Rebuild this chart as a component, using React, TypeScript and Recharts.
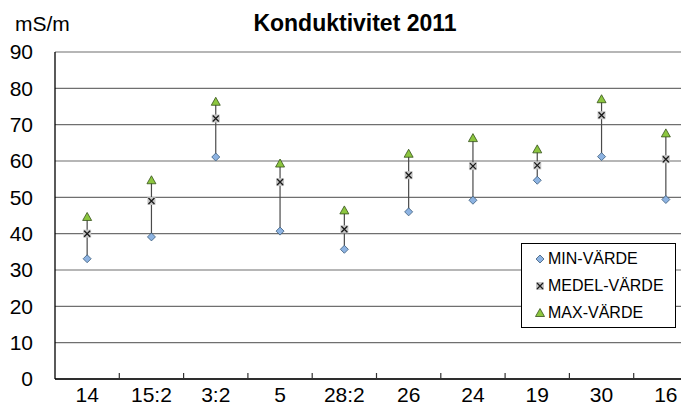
import React from "react";
import {
  ComposedChart, Line, XAxis, YAxis, CartesianGrid, Legend, ErrorBar,
} from "recharts";

const categories = ["14", "15:2", "3:2", "5", "28:2", "26", "24", "19", "30", "16"];
const minValues = [33.1, 39.1, 61.1, 40.7, 35.7, 46.0, 49.2, 54.7, 61.2, 49.4];
const medelValues = [40.0, 49.0, 71.7, 54.2, 41.2, 56.1, 58.6, 58.8, 72.6, 60.5];
const maxValues = [44.6, 54.7, 76.3, 59.3, 46.4, 62.0, 66.3, 63.2, 77.0, 67.6];
const yTicks = [0, 10, 20, 30, 40, 50, 60, 70, 80, 90];

const FONT = "'Liberation Sans', Arial, sans-serif";

const data = categories.map((name, i) => ({
  x: i + 0.5,
  name,
  min: minValues[i],
  medel: medelValues[i],
  max: maxValues[i],
  span: [0, maxValues[i] - minValues[i]],
}));

const labelTicks = categories.map((_, i) => i + 0.5);
const boundaryTicks = categories.slice(1).map((_, i) => i + 1);

const Diamond = ({ cx, cy }: any) =>
  cx == null ? null : (
    <path d={`M${cx},${cy - 4} L${cx + 4},${cy} L${cx},${cy + 4} L${cx - 4},${cy} Z`}
      fill="#8db3e2" stroke="#3a5a7a" strokeWidth={0.8} />
  );

const Cross = ({ cx, cy }: any) =>
  cx == null ? null : (
    <g>
      <rect x={cx - 4} y={cy - 4} width={8} height={8} fill="#c6c6c6" />
      <path d={`M${cx - 3},${cy - 3} L${cx + 3},${cy + 3} M${cx + 3},${cy - 3} L${cx - 3},${cy + 3}`}
        stroke="#1a1a1a" strokeWidth={1.3} />
    </g>
  );

const Triangle = ({ cx, cy }: any) =>
  cx == null ? null : (
    <path d={`M${cx},${cy - 4.5} L${cx + 4.5},${cy + 3.5} L${cx - 4.5},${cy + 3.5} Z`}
      fill="#8cc63f" stroke="#35501a" strokeWidth={0.8} />
  );

const legendItems = [
  { label: "MIN-VÄRDE", Icon: Diamond },
  { label: "MEDEL-VÄRDE", Icon: Cross },
  { label: "MAX-VÄRDE", Icon: Triangle },
];

const LegendBox = () => (
  <div style={{ border: "1px solid #000", background: "#fff", width: 153, height: 82, boxSizing: "content-box", paddingTop: 1 }}>
    {legendItems.map(({ label, Icon }) => (
      <div key={label} style={{ display: "flex", alignItems: "center", height: 27, fontFamily: FONT, fontSize: 16, color: "#000", whiteSpace: "nowrap" }}>
        <svg width={24} height={12} style={{ marginLeft: 7, flexShrink: 0 }}>
          <Icon cx={11} cy={6} />
        </svg>
        <span style={{ marginLeft: -5 }}>{label}</span>
      </div>
    ))}
  </div>
);

const NoTick = () => <g />;

export default function App() {
  return (
    <div style={{ margin: -8, width: 689, height: 415, overflow: "hidden", position: "relative", background: "#fff", fontFamily: FONT }}>
      <div style={{ position: "absolute", left: 15, top: 10, fontSize: 21, color: "#000", lineHeight: "28px" }}>mS/m</div>
      <div style={{ position: "absolute", left: 200, width: 310, top: 9, textAlign: "center", fontSize: 23, fontWeight: "bold", color: "#000", lineHeight: "28px" }}>
        Konduktivitet 2011
      </div>
      <div style={{ position: "absolute", left: 0, top: 0 }}>
        <ComposedChart width={710} height={415} data={data} margin={{ top: 52, right: 12, left: 0, bottom: 0 }}>
          <CartesianGrid horizontal vertical={false} stroke="#6f6f6f" strokeWidth={1.2} />
          <XAxis xAxisId="b" type="number" dataKey="x" domain={[0, 10]} ticks={boundaryTicks} height={1}
            tick={<NoTick />} axisLine={{ stroke: "#000", strokeWidth: 1.3 }} tickSize={-6}
            tickLine={{ stroke: "#333", strokeWidth: 1.2 }} interval={0} />
          <XAxis xAxisId="lab" type="number" dataKey="x" domain={[0, 10]} ticks={labelTicks} height={35}
            tickFormatter={(v: number) => categories[Math.floor(v)]} interval={0}
            axisLine={false} tickLine={false} tickMargin={1}
            tick={{ fontSize: 21, fill: "#000", fontFamily: FONT }} />
          <YAxis domain={[0, 90]} ticks={yTicks} width={55} interval={0}
            axisLine={{ stroke: "#000", strokeWidth: 1.3 }} tickLine={false} tickMargin={16}
            tick={{ fontSize: 21, fill: "#000", fontFamily: FONT }} />
          <Legend layout="vertical" align="center" verticalAlign="middle" content={<LegendBox />}
            wrapperStyle={{ left: 521, top: 243, width: 155, height: 84 }} />
          <Line xAxisId="lab" dataKey="min" name="MIN-VÄRDE" stroke="none" dot={<Diamond />} activeDot={false} isAnimationActive={false}>
            <ErrorBar dataKey="span" width={0} stroke="#4a4a4a" strokeWidth={1.2} direction="y" />
          </Line>
          <Line xAxisId="lab" dataKey="medel" name="MEDEL-VÄRDE" stroke="none" dot={<Cross />} activeDot={false} isAnimationActive={false} />
          <Line xAxisId="b" dataKey="max" name="MAX-VÄRDE" stroke="none" dot={<Triangle />} activeDot={false} isAnimationActive={false} />
        </ComposedChart>
      </div>
    </div>
  );
}
